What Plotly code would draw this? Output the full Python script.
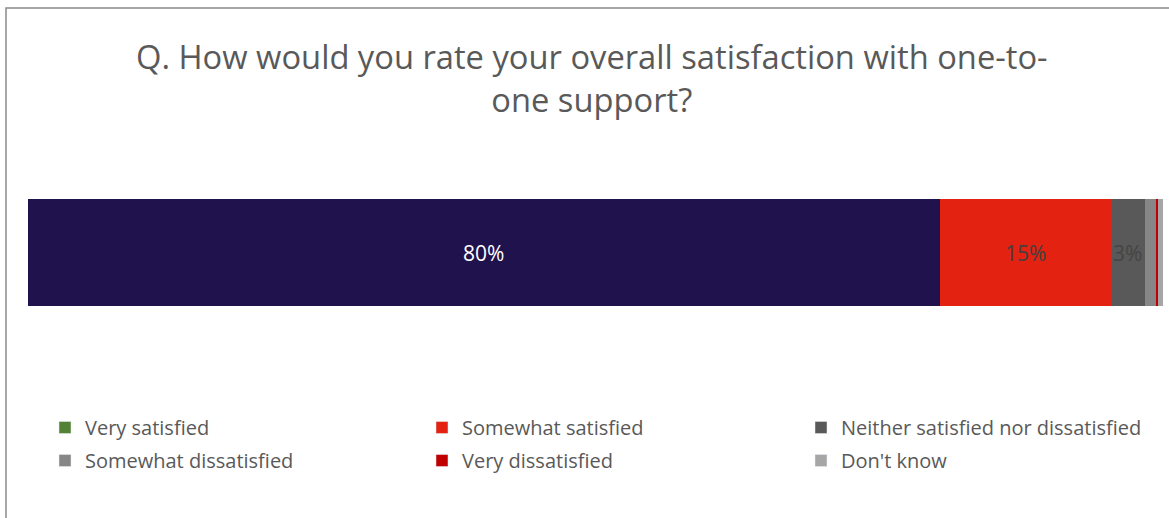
import plotly.graph_objects as go

# Survey responses (share of respondents, %)
categories = ["Very satisfied", "Somewhat satisfied", "Neither satisfied nor dissatisfied",
              "Somewhat dissatisfied", "Very dissatisfied", "Don't know"]
values = [80, 15, 3, 1.0, 0.2, 0.4]
labels = ["80%", "15%", "3%", "", "", ""]
bar_colors = ["#20124d", "#e32212", "#595959", "#868686", "#c00000", "#a6a6a6"]
legend_colors = ["#548235", "#e32212", "#595959", "#868686", "#c00000", "#a6a6a6"]
label_colors = ["#ffffff", "#404040", "#454545", "#404040", "#404040", "#404040"]
# legend column for each category (three columns, two rows)
legend_ids = ["legend", "legend2", "legend3", "legend", "legend2", "legend3"]

TITLE = "Q. How would you rate your overall satisfaction with one-to-<br>one support?"
FONT = "Open Sans"

W, H = 1169, 518
ML, MR = 28, 6
PW = W - ML - MR

fig = go.Figure()

start = 0.0
for i, (cat, val) in enumerate(zip(categories, values)):
    # the stacked segment itself
    fig.add_trace(go.Bar(
        x=[val], y=["Q"], orientation="h", name=cat,
        marker=dict(color=bar_colors[i], line=dict(width=0)),
        showlegend=False, hoverinfo="skip",
    ))
    # legend key for the category
    fig.add_trace(go.Bar(
        x=[None], y=[None], orientation="h", name=cat,
        marker=dict(color=legend_colors[i]), showlegend=True,
        legend=legend_ids[i], legendgroup=f"g{i}", legendrank=i + 1,
    ))
    # data label centred on the segment
    if labels[i]:
        fig.add_annotation(
            x=start + val / 2, y="Q", xref="x", yref="y",
            text=labels[i], showarrow=False,
            font=dict(family=FONT, size=21, color=label_colors[i]),
        )
    start += val


def legend_column(px):
    return dict(
        orientation="v", x=(px - ML) / PW, xanchor="left",
        y=1 - 408 / H, yanchor="top",
        font=dict(family=FONT, size=20, color="#595959"),
        itemwidth=30, tracegroupgap=4, traceorder="grouped",
        bgcolor="rgba(0,0,0,0)",
    )


fig.update_layout(
    width=W, height=H,
    margin=dict(l=ML, r=MR, t=0, b=0),
    paper_bgcolor="white", plot_bgcolor="white",
    barmode="stack", bargap=0,
    xaxis=dict(range=[0, sum(values)], visible=False, fixedrange=True),
    yaxis=dict(domain=[1 - 306 / H, 1 - 199 / H], visible=False, range=[-0.5, 0.5]),
    showlegend=True,
    legend=legend_column(45),
    legend2=legend_column(422),
    legend3=legend_column(801),
    font=dict(family=FONT, color="#595959"),
)

fig.add_annotation(
    text=TITLE, xref="paper", yref="paper",
    x=(592 - ML) / PW, y=1 - 78 / H, xanchor="center", yanchor="middle",
    showarrow=False, align="center",
    font=dict(family=FONT, size=32.7, color="#595959"),
)

# outer chart frame
fig.add_shape(
    type="rect", xref="paper", yref="paper",
    x0=(6 - ML) / PW, x1=1.05, y0=-0.05, y1=1 - 8 / H,
    line=dict(color="#8a8a8a", width=1.5), fillcolor="rgba(0,0,0,0)", layer="below",
)

fig.write_html("out.html")
